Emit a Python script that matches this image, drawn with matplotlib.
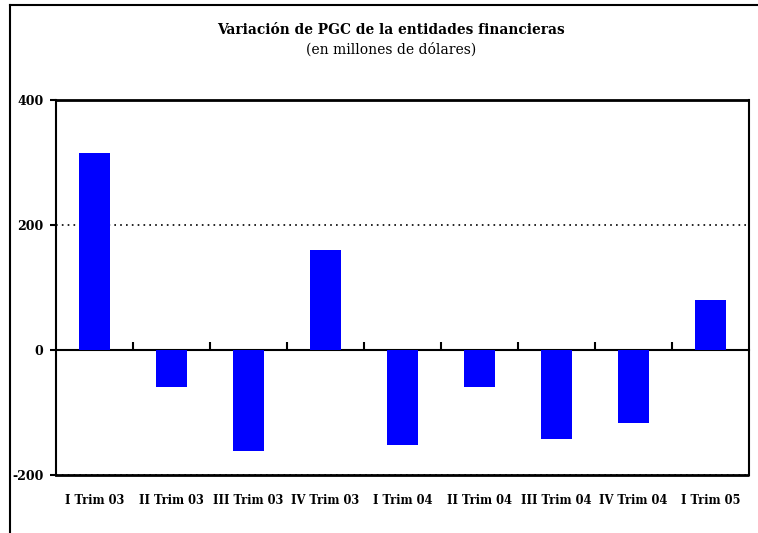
import matplotlib.pyplot as plt
import numpy as np

categorias = ['I Trim 03', 'II Trim 03', 'III Trim 03', 'IV Trim 03', 'I Trim 04',
              'II Trim 04', 'III Trim 04', 'IV Trim 04', 'I Trim 05']
variacion = [316, -59, -161, 160, -152, -59, -143, -117, 80]
yticks = [-200, 0, 200, 400]

plt.rcParams['font.family'] = ['DejaVu Serif']

fig = plt.figure(figsize=(7.58, 5.33), dpi=100)
ax = fig.add_axes([56/758, 58/533, 693/758, 375/533])

x = np.arange(len(categorias))
ax.bar(x, variacion, width=0.4, color='#0000ff', zorder=3)

ax.set_xlim(-0.5, len(categorias) - 0.5)
ax.set_ylim(-200, 400)
ax.set_yticks(yticks)
ax.set_yticklabels([str(v) for v in yticks], fontsize=9, fontweight='bold')
ax.set_xticks(x)
ax.set_xticklabels(categorias, fontsize=8.3, fontweight='bold')
ax.tick_params(axis='x', length=0, pad=14)
ax.tick_params(axis='y', length=4, width=1.5, direction='out', pad=5)

for side in ['left', 'right']:
    ax.spines[side].set_linewidth(1.5)
for side in ['top', 'bottom']:
    ax.spines[side].set_linestyle((0, (1, 1)))
    ax.spines[side].set_linewidth(2)

ax.yaxis.grid(True, linestyle=(0, (1, 2.5)), color='black', linewidth=1.2)
ax.set_axisbelow(True)

# eje cero con marcas entre categorias
eje0 = ax.secondary_xaxis(200/600)
eje0.set_xticks(x[:-1] + 0.5)
eje0.tick_params(direction='in', length=6, width=1.5, labelbottom=False, labeltop=False)
eje0.spines['bottom'].set_linewidth(1.5)
eje0.set_xticklabels([])

fig.text(391/758, 1 - 30/533, 'Variación de PGC de la entidades financieras',
         ha='center', va='center', fontsize=9.9, fontweight='bold')
fig.text(391/758, 1 - 50/533, '(en millones de dólares)',
         ha='center', va='center', fontsize=10)

# marco exterior
fig.add_artist(plt.Line2D([10/758, 10/758], [0, 1 - 5/533], color='black', lw=1.5))
fig.add_artist(plt.Line2D([10/758, 1], [1 - 5/533, 1 - 5/533], color='black', lw=1.5))

fig.savefig('out.png', dpi=100)
